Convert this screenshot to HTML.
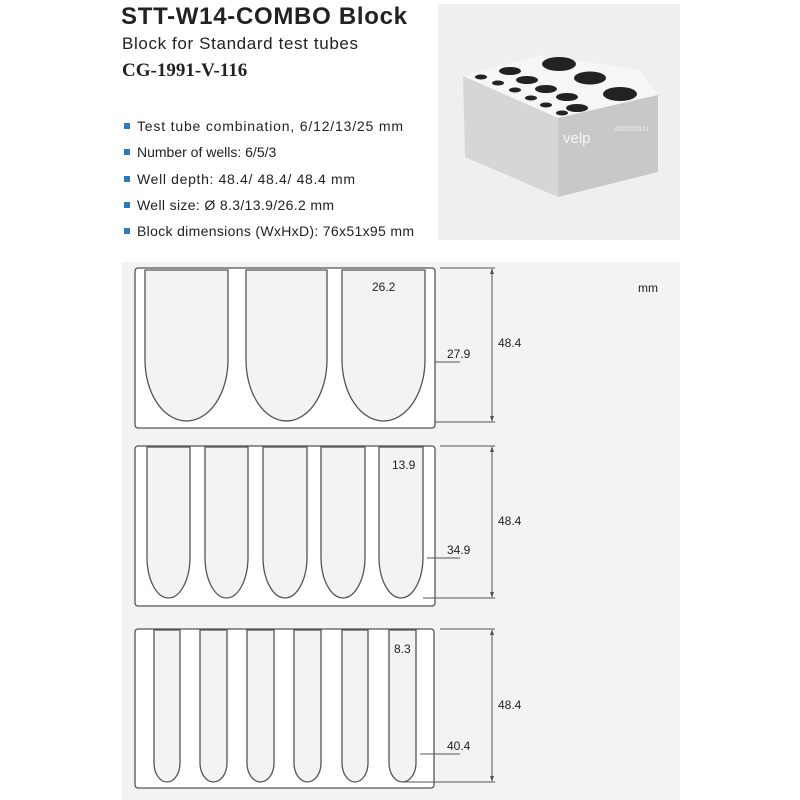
<!DOCTYPE html>
<html><head><meta charset="utf-8"><style>
body{margin:0;background:#fff;width:800px;height:800px;overflow:hidden}
svg{display:block}
text{font-family:"Liberation Sans",sans-serif;fill:#222}
</style></head><body>
<svg width="800" height="800" viewBox="0 0 800 800">
<rect width="800" height="800" fill="#fff"/>
<text x="121" y="24" font-size="24" font-weight="bold" fill="#1a1a1a" textLength="286">STT-W14-COMBO Block</text>
<text x="122" y="49" font-size="17" textLength="236">Block for Standard test tubes</text>
<text x="122" y="76" font-size="19" font-weight="bold" style="font-family:'Liberation Serif',serif">CG-1991-V-116</text>
<g font-size="14">
<rect x="124" y="123" width="6" height="6" fill="#2b7bc4"/><text x="137" y="131" textLength="266">Test tube combination, 6/12/13/25 mm</text>
<rect x="124" y="149" width="6" height="6" fill="#2b7bc4"/><text x="137" y="157">Number of wells: 6/5/3</text>
<rect x="124" y="176" width="6" height="6" fill="#2b7bc4"/><text x="137" y="184" textLength="218">Well depth: 48.4/ 48.4/ 48.4 mm</text>
<rect x="124" y="202" width="6" height="6" fill="#2b7bc4"/><text x="137" y="210" textLength="197">Well size: Ø 8.3/13.9/26.2 mm</text>
<rect x="124" y="228" width="6" height="6" fill="#2b7bc4"/><text x="137" y="236" textLength="277">Block dimensions (WxHxD): 76x51x95 mm</text>
</g>
<!-- photo -->
<rect x="438" y="4" width="242" height="236" fill="#efefef"/>
<polygon points="463,76 540,55 640,70 658,95 558,118" fill="#f6f6f6"/>
<polygon points="463,76 558,118 558,197 465,157" fill="#d6d6d6"/>
<polygon points="558,118 658,95 658,172 558,197" fill="#c8c8c8"/>
<g fill="#222">
<ellipse cx="559" cy="64" rx="17" ry="7"/><ellipse cx="590" cy="78" rx="16" ry="6.5"/><ellipse cx="620" cy="94" rx="17" ry="7"/>
<ellipse cx="510" cy="71" rx="11" ry="4"/><ellipse cx="527" cy="80" rx="11" ry="4"/><ellipse cx="546" cy="89" rx="11" ry="4"/><ellipse cx="567" cy="97" rx="11" ry="4"/><ellipse cx="577" cy="108" rx="11" ry="4"/>
<ellipse cx="481" cy="77" rx="6" ry="2.5"/><ellipse cx="498" cy="83" rx="6" ry="2.5"/><ellipse cx="515" cy="90" rx="6" ry="2.5"/><ellipse cx="531" cy="98" rx="6" ry="2.5"/><ellipse cx="546" cy="105" rx="6" ry="2.5"/><ellipse cx="562" cy="113" rx="6" ry="2.5"/>
</g>
<text x="563" y="143" font-size="15" style="fill:#f4f4f4">velp</text>
<text x="614" y="131" font-size="7" style="fill:#eee">A00000511</text>
<!-- drawing panel -->
<rect x="122" y="262" width="558" height="538" fill="#f3f3f1"/>
<text x="638" y="292" font-size="12">mm</text>
<g stroke="#555" stroke-width="1.3" fill="none">
<rect x="135" y="268" width="300" height="160" rx="3" fill="#fff"/>
<rect x="135" y="446" width="300" height="160" rx="3" fill="#fff"/>
<rect x="135" y="629" width="299" height="159" rx="3" fill="#fff"/>
</g>
<g stroke="#555" stroke-width="1.3" fill="#f3f3f1">
<path d="M145,270V360A41.5,61 0 0 0 228,360V270Z"/>
<path d="M246,270V360A40.5,61 0 0 0 327,360V270Z"/>
<path d="M342,270V360A41.5,61 0 0 0 425,360V270Z"/>
<path d="M147,447V557A21.5,41 0 0 0 190,557V447Z"/>
<path d="M205,447V557A21.5,41 0 0 0 248,557V447Z"/>
<path d="M263,447V557A22,41 0 0 0 307,557V447Z"/>
<path d="M321,447V557A22,41 0 0 0 365,557V447Z"/>
<path d="M379,447V557A22,41 0 0 0 423,557V447Z"/>
<path d="M154,630V763A13,19 0 0 0 180,763V630Z"/>
<path d="M200,630V763A13.5,19 0 0 0 227,763V630Z"/>
<path d="M247,630V763A13.5,19 0 0 0 274,763V630Z"/>
<path d="M294,630V763A13.5,19 0 0 0 321,763V630Z"/>
<path d="M342,630V763A13,19 0 0 0 368,763V630Z"/>
<path d="M389,630V763A13.5,19 0 0 0 416,763V630Z"/>
</g>
<g stroke="#555" stroke-width="1" fill="none">
<path d="M440,268H495M492,270V420M435,422H495"/>
<path d="M435,362H460"/>
<path d="M440,446H495M492,448V596M423,598H495"/>
<path d="M427,558H460"/>
<path d="M440,629H495M492,631V780M404,782H495"/>
<path d="M420,754H460"/>
</g>
<g fill="#555">
<path d="M492,268l-2,6h4z"/><path d="M492,422l-2,-6h4z"/>
<path d="M492,446l-2,6h4z"/><path d="M492,598l-2,-6h4z"/>
<path d="M492,629l-2,6h4z"/><path d="M492,782l-2,-6h4z"/>
</g>
<g font-size="12">
<text x="372" y="291">26.2</text><text x="447" y="358">27.9</text><text x="498" y="347">48.4</text>
<text x="392" y="469">13.9</text><text x="447" y="554">34.9</text><text x="498" y="525">48.4</text>
<text x="394" y="653">8.3</text><text x="447" y="750">40.4</text><text x="498" y="709">48.4</text>
</g>
</svg>
</body></html>
